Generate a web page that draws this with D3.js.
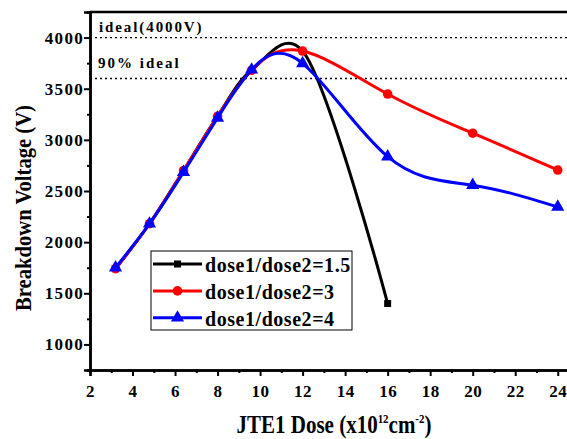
<!DOCTYPE html>
<html>
<head>
<meta charset="utf-8">
<script src="https://cdn.jsdelivr.net/npm/d3@7"></script>
<style>
  body { margin: 0; background: #fff; }
  svg text { font-family: "Liberation Serif", "Times New Roman", serif; font-weight: bold; }
</style>
</head>
<body>
<div id="chart"></div>
<script>
// data
var dose15X = [3.2, 4.8, 6.4, 8, 9.6, 12, 16],
    dose15Y = [1740, 2180, 2700, 3230, 3680, 3868, 1400];
var dose3X = [3.2, 4.8, 6.4, 8, 9.6, 12, 16, 20, 24],
    dose3Y = [1740, 2180, 2700, 3230, 3680, 3868, 3448, 3065, 2705];
var dose4X = [3.2, 4.8, 6.4, 8, 9.6, 12, 16, 20, 24],
    dose4Y = [1750, 2180, 2685, 3215, 3685, 3748, 2836, 2557, 2344];
var seriesNames = ["dose1/dose2=1.5", "dose1/dose2=3", "dose1/dose2=4"];
var xTicks = [2, 4, 6, 8, 10, 12, 14, 16, 18, 20, 22, 24];
var yTicks = [1000, 1500, 2000, 2500, 3000, 3500, 4000];
var refLines = [4000, 3600];
var refLabels = ["ideal(4000V)", "90% ideal"];

var W = 567, H = 439;
var margin = {top: 12, right: -12, bottom: 69, left: 90},
    width = W - margin.left - margin.right,
    height = H - margin.top - margin.bottom;

var svg = d3.select("#chart").append("svg")
    .attr("width", W).attr("height", H)
  .append("g")
    .attr("transform", "translate(" + margin.left + "," + margin.top + ")");

var x = d3.scaleLinear().domain([2, 25]).range([0, width]);
var y = d3.scaleLinear().domain([750, 4250]).range([height, 0]);

// reference dotted lines
svg.selectAll(".ref")
  .data(refLines)
  .enter().append("line")
    .attr("x1", 0).attr("x2", width)
    .attr("y1", d => y(d)).attr("y2", d => y(d))
    .attr("stroke", "#000").attr("stroke-width", 1.3)
    .attr("stroke-dasharray", "2,3");

svg.append("text").attr("x", 9).attr("y", y(4000) - 5.3)
  .style("font-size", "15px").style("letter-spacing", "1.9px").text(refLabels[0]);
svg.append("text").attr("x", 8).attr("y", y(3600) - 10.8)
  .style("font-size", "15px").style("letter-spacing", "2px").text(refLabels[1]);

// series
var series = [
  {name: seriesNames[0], xs: dose15X, ys: dose15Y, color: "#000", shape: d3.symbolSquare, size: 49,
   curve: d3.curveCatmullRom.alpha(0.2)},
  {name: seriesNames[1], xs: dose3X, ys: dose3Y, color: "#f00", shape: d3.symbolCircle, size: 72,
   curve: d3.curveNatural},
  {name: seriesNames[2], xs: dose4X, ys: dose4Y, color: "#00f", shape: d3.symbolTriangle, size: 75,
   curve: d3.curveNatural}
];

series.forEach(function(s) {
  var pts = s.xs.map((v, i) => [v, s.ys[i]]);
  var line = d3.line()
    .x(d => x(d[0])).y(d => y(d[1]))
    .curve(s.curve);
  svg.append("path")
    .datum(pts)
    .attr("fill", "none")
    .attr("stroke", s.color)
    .attr("stroke-width", 3)
    .attr("d", line);
  svg.selectAll(null)
    .data(pts)
    .enter().append("path")
      .attr("transform", d => "translate(" + x(d[0]) + "," + y(d[1]) + ")")
      .attr("d", d3.symbol().type(s.shape).size(s.size))
      .attr("fill", s.color);
});

// axes
var xAxis = svg.append("g")
  .attr("transform", "translate(0," + height + ")")
  .call(d3.axisBottom(x).tickValues(xTicks).tickSize(6).tickFormat(d3.format("d")));
svg.append("g")
  .attr("transform", "translate(0," + height + ")")
  .call(d3.axisBottom(x).tickValues(d3.range(3, 25, 2)).tickSize(3).tickFormat(""));
var yAxis = svg.append("g")
  .call(d3.axisLeft(y).tickValues(yTicks).tickSize(6).tickFormat(d3.format("d")));
svg.append("g")
  .call(d3.axisLeft(y).tickValues(d3.range(750, 4250, 500)).tickSize(3).tickFormat(""));

svg.selectAll(".domain").attr("stroke", "#000").attr("stroke-width", 2.5);
svg.selectAll(".tick line").attr("stroke", "#000").attr("stroke-width", 2);
xAxis.selectAll("text").style("font-size", "17px").style("letter-spacing", "0.5px").attr("dy", "1.05em");
yAxis.selectAll("text").style("font-size", "17px").style("letter-spacing", "1.3px").attr("x", -6);

// top frame
svg.append("line").attr("x1", 0).attr("x2", width).attr("y1", 0).attr("y2", 0)
  .attr("stroke", "#000").attr("stroke-width", 2.5);

// legend
var legend = svg.append("g").attr("transform", "translate(" + (151 - margin.left) + "," + (251 - margin.top) + ")");
legend.append("rect").attr("width", 201).attr("height", 79)
  .attr("fill", "#fff").attr("stroke", "#000").attr("stroke-width", 1);
series.forEach(function(s, i) {
  var ly = 13 + i * 26.9;
  legend.append("line").attr("x1", 2).attr("x2", 51).attr("y1", ly).attr("y2", ly)
    .attr("stroke", s.color).attr("stroke-width", 3);
  legend.append("path").attr("transform", "translate(26.5," + ly + ")")
    .attr("d", d3.symbol().type(s.shape).size(s.size)).attr("fill", s.color);
  legend.append("text").attr("x", 54).attr("y", ly + 7.7)
    .style("font-size", "20px").style("letter-spacing", "0.55px").text(s.name);
});

// axis titles
svg.append("text")
  .attr("transform", "translate(" + (31 - margin.left) + "," + (208 - margin.top) + ") rotate(-90) scale(0.86,1)")
  .attr("text-anchor", "middle")
  .style("font-size", "24px")
  .text("Breakdown Voltage (V)");

var xt = svg.append("text")
  .attr("transform", "translate(" + (334 - margin.left) + "," + (433 - margin.top) + ") scale(0.84,1)")
  .attr("text-anchor", "middle")
  .style("font-size", "25px");
xt.append("tspan").text("JTE1 Dose (x10");
xt.append("tspan").attr("dy", -10).style("font-size", "13px").text("12");
xt.append("tspan").attr("dy", 10).text("cm");
xt.append("tspan").attr("dy", -10).style("font-size", "13px").text("-2");
xt.append("tspan").attr("dy", 10).text(")");
</script>
</body>
</html>
